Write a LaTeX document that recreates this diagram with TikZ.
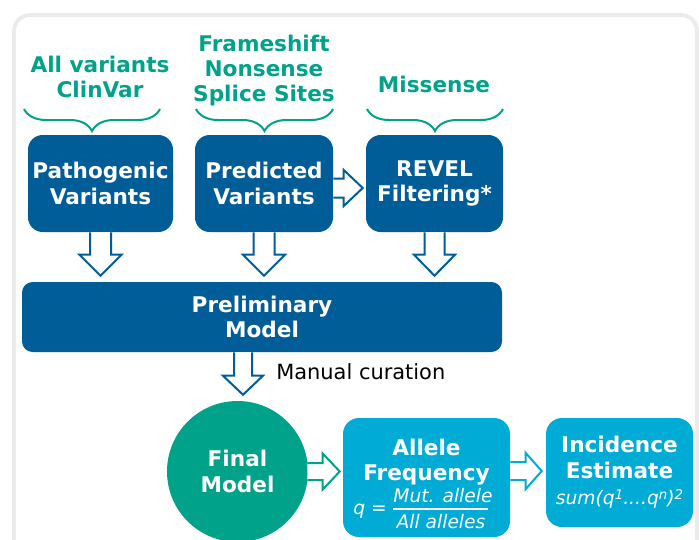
\documentclass[tikz,border=0pt]{standalone}
\usepackage{fontspec}
\setmainfont{DejaVu Sans}
\usetikzlibrary{calc,decorations.pathreplacing}
\definecolor{dblue}{HTML}{005D97}
\definecolor{mygreen}{HTML}{00A28A}
\definecolor{lblue}{HTML}{00ACD6}
\definecolor{framegray}{HTML}{EBEBEB}
% block arrow pointing down: style, start, tip, shaft half width, head half width, head length
\newcommand{\downblk}[6]{%
  \draw[#1] ($(#2)+(-#4,0)$) -- ($(#3)+(-#4,-#6)$) -- ($(#3)+(-#5,-#6)$) -- (#3)
    -- ($(#3)+(#5,-#6)$) -- ($(#3)+(#4,-#6)$) -- ($(#2)+(#4,0)$);}
% block arrow pointing right
\newcommand{\rightblk}[6]{%
  \draw[#1] ($(#2)+(0,-#4)$) -- ($(#3)+(-#6,-#4)$) -- ($(#3)+(-#6,-#5)$) -- (#3)
    -- ($(#3)+(-#6,#5)$) -- ($(#3)+(-#6,#4)$) -- ($(#2)+(0,#4)$);}
\newcommand{\supx}[1]{\raisebox{0.55ex}{\fontsize{10}{10}\selectfont #1}}
\begin{document}
\begin{tikzpicture}[x=0.75pt,y=-0.75pt,
  bigfont/.style={font=\bfseries\fontsize{16.2}{18.9}\selectfont},
  box/.style={fill=dblue, rounded corners=11pt, text=white, bigfont, align=center, inner sep=0pt},
  cbox/.style={fill=lblue, rounded corners=12pt, text=white, bigfont, align=center, inner sep=0pt},
  glabel/.style={text=mygreen, bigfont, align=center, inner sep=0pt},
  brc/.style={draw=mygreen, line width=1.5pt, decorate, decoration={brace, mirror, amplitude=16.5pt}},
  arrblue/.style={draw=dblue, fill=white, line width=1.5pt, line join=miter},
  arrgreen/.style={draw=mygreen, fill=white, line width=1.5pt, line join=miter},
  arrlight/.style={draw=lblue, fill=white, line width=1.5pt, line join=miter},
  formula/.style={text=white, font=\itshape\fontsize{14}{16}\selectfont, inner sep=0pt}]
\useasboundingbox (0,0) rectangle (699,539);
\fill[white] (0,0) rectangle (699,539);
\begin{scope}
\clip (0,0) rectangle (699,539);
\draw[framegray, line width=2.8pt, rounded corners=12pt] (14,15) rectangle (697,640);
\end{scope}

% labels and braces
\node[glabel] (lab1) at (100,77) {All variants\\ClinVar};
\node[glabel] (lab2) at (264,70.5) {Frameshift\\Nonsense\\Splice Sites};
\node[glabel, anchor=base] (lab3) at (434,92) {Missense};
\draw[brc] (24,109) -- (160,109);
\draw[brc] (196,109) -- (333,109);
\draw[brc] (367,109) -- (503,109);

% top boxes
\node[box, minimum width=108.75pt, minimum height=72.75pt] (path) at (100.5,183.5) {Pathogenic\\Variants};
\node[box, minimum width=103.5pt, minimum height=72.75pt] (pred) at (264,183.5) {Predicted\\Variants};
\node[box, minimum width=102.75pt, minimum height=72.75pt] (revel) at (434.5,183.5) {REVEL\\Filtering*};
\node[box, rounded corners=8pt, minimum width=360pt, minimum height=52.5pt] (prelim) at (262,317) {Preliminary\\Model};

% circle and bottom boxes
\node[cbox, minimum width=125.25pt, minimum height=89.25pt] (allele) at (426.5,477.5) {};
\node[cbox, minimum width=110.25pt, minimum height=81.75pt] (incid) at (619.5,472.5)
  {Incidence\\Estimate\\[1pt]{\mdseries\itshape\fontsize{14}{16}\selectfont sum(q\supx{1}....q\supx{n})\supx{2}}};

% arrows
\coordinate (t1) at ($(path.south |- prelim.north)+(0,-6)$);
\coordinate (t2) at ($(pred.south |- prelim.north)+(0,-6)$);
\coordinate (t3) at ($(revel.south |- prelim.north)+(0,-6)$);
\downblk{arrblue}{path.south}{t1}{10.5}{21}{21}
\downblk{arrblue}{pred.south}{t2}{10.5}{21}{21}
\downblk{arrblue}{revel.south}{t3}{10}{20.5}{21}
\coordinate (prs) at ($(pred.east)+(0,4.5)$);
\coordinate (prt) at ($(revel.west |- prs)+(-3,0)$);
\rightblk{arrblue}{prs}{prt}{9.5}{18}{19}

\node[circle, fill=mygreen, minimum size=105.75pt, inner sep=0pt, text=white, bigfont, align=center] (final) at (237.5,471.5) {Final\\Model};

\coordinate (mcs) at ($(prelim.south)+(-19,0)$);
\coordinate (mct) at ($(mcs |- final.north)+(0,-6)$);
\downblk{arrblue}{mcs}{mct}{9}{20}{19}
\node[anchor=base west, inner sep=0pt, font=\fontsize{15.7}{18}\selectfont] (mc) at ($(mcs)+(33,27)$) {Manual curation};

\coordinate (fas) at ($(final.east)+(-1,0)$);
\coordinate (fat) at ($(allele.west |- final.east)+(-3,0)$);
\rightblk{arrgreen}{fas}{fat}{8.5}{18}{17}
\coordinate (ais) at ($(allele.east)+(0,-6.5)$);
\coordinate (ait) at ($(incid.west |- ais)+(-4,0)$);
\rightblk{arrlight}{ais}{ait}{9}{18}{16}

% allele frequency text
\node[text=white, bigfont, align=center, inner sep=0pt] (aftext) at (426.5,462) {Allele\\Frequency};
\node[formula, anchor=base west] (qeq) at (353,514) {q =};
\node[formula, anchor=base] (mut) at (443,502) {Mut. allele};
\node[formula, anchor=base] (alls) at (441,528) {All alleles};
\draw[white, line width=1.2pt] (393,509) -- (488,509);
\end{tikzpicture}
\end{document}
